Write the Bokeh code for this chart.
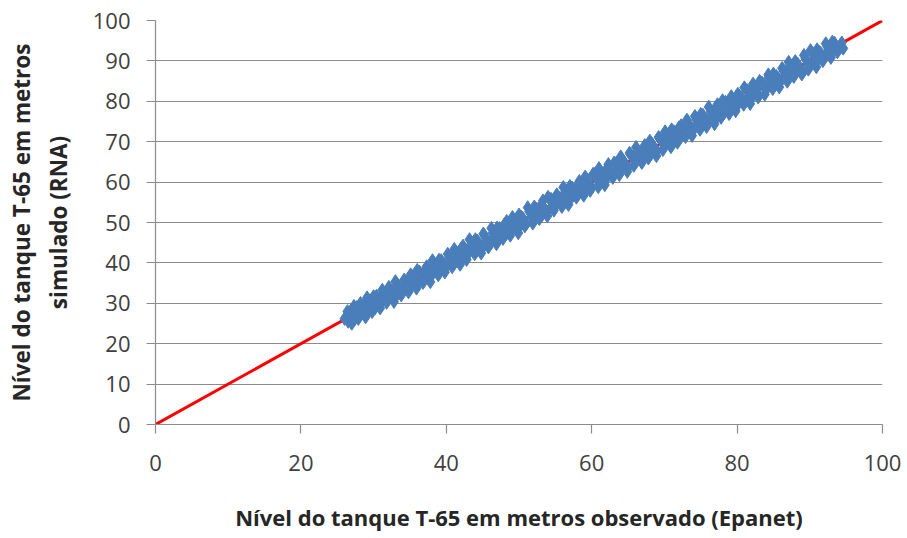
from bokeh.plotting import figure
from bokeh.models import Range1d, FixedTicker
from bokeh.embed import file_html
from bokeh.resources import INLINE

obs_upper = [26.4, 27.3, 28.2, 29.1, 30.0, 31.2, 32.1, 33.0, 34.2, 35.1, 36.0, 37.3, 38.1, 39.0, 40.2, 41.1, 42.3,
             43.2, 44.0, 45.1, 46.2, 47.0, 48.3, 49.1, 50.0, 51.2, 52.1, 53.3, 54.0, 55.2, 56.1, 57.0, 58.3, 59.1,
             60.2, 61.0, 62.3, 63.1, 64.0, 65.2, 66.1, 67.3, 68.0, 69.2, 70.1, 71.0, 72.3, 73.1, 74.2, 75.0, 76.1,
             77.3, 78.0, 79.2, 80.1, 81.0, 82.2, 83.1, 84.3, 85.0, 86.2, 87.1, 88.0, 89.2, 90.1, 91.0, 92.2, 93.1]
sim_upper = [28.0, 29.3, 30.0, 31.4, 31.7, 33.3, 34.0, 35.4, 35.8, 37.1, 38.2, 39.1, 40.6, 40.7, 42.2, 43.4, 44.2,
             45.8, 45.8, 47.2, 48.6, 48.7, 50.3, 51.3, 51.9, 53.7, 53.9, 55.4, 56.3, 56.9, 58.7, 59.0, 60.2, 61.3,
             62.0, 63.4, 64.4, 64.8, 66.3, 67.2, 68.6, 69.1, 70.2, 71.1, 72.5, 73.0, 74.0, 75.4, 76.3, 76.8, 78.6,
             79.2, 80.2, 81.2, 81.8, 83.4, 84.3, 85.0, 86.6, 86.8, 88.2, 89.7, 89.9, 91.4, 92.6, 92.8, 94.3, 94.7]

obs_upper_mid = [26.7, 27.7, 28.6, 29.5, 30.4, 31.4, 32.3, 33.3, 34.4, 35.3, 36.3, 37.0, 38.3, 39.3, 40.4, 41.4,
                 42.0, 43.4, 44.3, 45.3, 46.4, 47.3, 48.0, 49.4, 50.3, 51.4, 52.4, 53.0, 54.4, 55.4, 56.3, 57.3,
                 58.0, 59.4, 60.4, 61.3, 62.0, 63.4, 64.3, 65.4, 66.4, 67.0, 68.3, 69.4, 70.4, 71.3, 72.0, 73.4,
                 74.4, 75.3, 76.4, 77.0, 78.4, 79.4, 80.3, 81.4, 82.0, 83.4, 84.3, 85.4, 86.4, 87.3, 88.3, 89.4,
                 90.4, 91.3, 92.4, 93.4]
sim_upper_mid = [27.7, 29.0, 29.5, 30.7, 31.8, 32.2, 33.4, 34.6, 35.4, 36.5, 37.8, 37.9, 39.4, 40.6, 41.4, 42.6,
                 43.4, 44.3, 45.4, 46.6, 47.4, 48.5, 49.5, 50.2, 51.4, 52.7, 53.4, 54.2, 55.8, 56.3, 57.4, 58.6,
                 59.0, 60.6, 61.9, 62.2, 63.1, 64.7, 65.3, 66.6, 67.8, 67.8, 69.4, 70.7, 71.4, 72.5, 73.5, 74.3,
                 75.5, 76.6, 77.4, 78.2, 79.8, 80.3, 81.4, 82.7, 83.0, 84.6, 85.8, 86.2, 87.5, 88.6, 89.3, 90.6,
                 91.8, 92.2, 93.5, 94.4]

obs_mid = [26.0, 26.9, 27.8, 28.7, 29.6, 30.5, 31.6, 32.5, 33.6, 34.5, 35.6, 36.5, 37.7, 38.6, 39.5, 40.7, 41.6,
           42.7, 43.6, 44.5, 45.6, 46.6, 47.5, 48.7, 49.6, 50.5, 51.7, 52.6, 53.6, 54.6, 55.6, 56.5, 57.6, 58.7,
           59.6, 60.6, 61.6, 62.7, 63.5, 64.6, 65.7, 66.6, 67.6, 68.6, 69.7, 70.5, 71.6, 72.7, 73.6, 74.6, 75.6,
           76.7, 77.6, 78.6, 79.6, 80.6, 81.6, 82.7, 83.6, 84.6, 85.6, 86.7, 87.6, 88.5, 89.6, 90.6, 91.5, 92.6,
           93.5, 94.4]
sim_mid = [26.2, 26.6, 28.3, 28.6, 29.9, 30.1, 31.7, 33.1, 33.4, 34.9, 35.1, 36.7, 37.7, 38.3, 40.0, 40.8, 41.4,
           43.1, 43.2, 44.8, 45.6, 46.5, 48.0, 48.4, 49.8, 51.1, 51.5, 52.7, 53.2, 54.9, 55.6, 57.0, 57.5, 58.9,
           59.3, 61.0, 61.7, 62.2, 63.8, 64.6, 66.3, 66.4, 67.8, 68.5, 70.1, 70.2, 71.7, 73.2, 73.4, 74.9, 75.6,
           76.3, 77.8, 79.2, 79.5, 80.9, 81.3, 82.8, 84.0, 84.4, 85.8, 87.2, 87.2, 88.5, 89.9, 90.5, 91.9, 92.8,
           93.2, 94.5]

obs_lower_mid = [26.5, 27.4, 28.4, 29.3, 30.2, 31.1, 32.0, 33.1, 34.0, 35.0, 36.2, 37.1, 38.0, 39.1, 40.0, 41.0,
                 42.1, 43.0, 44.1, 45.0, 46.0, 47.1, 48.1, 49.0, 50.1, 51.0, 52.0, 53.1, 54.1, 55.0, 56.0, 57.1,
                 58.1, 59.0, 60.0, 61.1, 62.1, 63.0, 64.1, 65.0, 66.0, 67.1, 68.1, 69.0, 70.0, 71.1, 72.1, 73.0,
                 74.0, 75.1, 76.0, 77.1, 78.1, 79.0, 80.0, 81.1, 82.1, 83.0, 84.0, 85.1, 86.0, 87.0, 88.1, 89.0,
                 90.0, 91.1, 92.0, 93.0, 94.0]
sim_lower_mid = [25.5, 26.1, 27.5, 28.1, 28.8, 30.3, 30.9, 31.8, 33.0, 33.5, 35.0, 36.2, 36.9, 37.8, 39.0, 39.6,
                 40.9, 42.2, 43.0, 43.7, 45.0, 45.6, 46.9, 48.1, 49.0, 49.7, 51.0, 51.7, 52.9, 54.2, 54.9, 55.8,
                 57.1, 57.5, 58.8, 60.2, 61.0, 61.7, 63.1, 63.6, 64.8, 66.3, 67.0, 67.7, 69.0, 69.6, 70.9, 72.1,
                 72.9, 73.8, 75.0, 75.7, 76.9, 78.2, 78.9, 79.8, 81.1, 81.5, 82.8, 84.2, 84.9, 85.7, 87.1, 87.6,
                 88.8, 90.3, 90.9, 92.0, 93.1]

obs_lower = [27.0, 27.9, 28.9, 29.8, 30.9, 31.8, 32.8, 33.8, 34.8, 35.9, 36.8, 37.8, 38.9, 39.8, 40.8, 41.9, 42.8,
             43.9, 44.8, 45.8, 46.9, 47.8, 48.8, 49.9, 50.8, 51.9, 52.8, 53.9, 54.8, 55.9, 56.8, 57.9, 58.9, 59.8,
             60.9, 61.8, 62.9, 63.8, 64.9, 65.8, 66.9, 67.8, 68.9, 69.8, 70.9, 71.8, 72.9, 73.8, 74.9, 75.8, 76.9,
             77.8, 78.9, 79.8, 80.9, 81.8, 82.9, 83.8, 84.9, 85.8, 86.9, 87.8, 88.9, 89.8, 90.9, 91.8, 92.9, 93.8,
             94.6]
sim_lower = [25.0, 26.2, 26.6, 27.9, 28.8, 30.2, 30.4, 32.0, 32.8, 33.7, 35.1, 35.3, 37.0, 37.7, 39.0, 39.6, 40.8,
             42.2, 42.4, 43.9, 44.7, 46.0, 46.8, 47.4, 49.1, 49.8, 50.9, 51.6, 53.0, 53.9, 54.4, 56.2, 56.7, 57.9,
             58.8, 59.3, 61.1, 61.8, 62.6, 64.1, 64.8, 65.9, 66.5, 68.0, 68.7, 69.8, 71.2, 71.5, 73.0, 73.7, 74.4,
             76.0, 76.9, 77.6, 79.2, 79.4, 81.0, 81.7, 83.1, 83.5, 84.9, 86.1, 86.7, 87.9, 88.5, 90.0, 90.8, 92.2,
             93.1]

line_x = [0, 100]
line_y = [0, 100]
x_ticks = [0, 20, 40, 60, 80, 100]
y_ticks = [0, 10, 20, 30, 40, 50, 60, 70, 80, 90, 100]

FONT = "Open Sans"
GRID = "#8c8c8c"
BLUE = "#4a7ebb"

p = figure(width=905, height=538, output_backend="svg", toolbar_location=None,
           x_range=Range1d(0, 100), y_range=Range1d(0, 100),
           min_border_left=155, min_border_right=23, min_border_top=20, min_border_bottom=114)
p.outline_line_color = None
p.background_fill_color = "white"
p.border_fill_color = "white"

p.xgrid.grid_line_color = None
p.ygrid.grid_line_color = GRID
p.ygrid.grid_line_width = 1.2

p.xaxis.ticker = FixedTicker(ticks=x_ticks)
p.yaxis.ticker = FixedTicker(ticks=y_ticks)
for ax in (p.xaxis[0], p.yaxis[0]):
    ax.axis_line_color = GRID
    ax.axis_line_width = 1.2
    ax.major_tick_line_color = GRID
    ax.major_tick_line_width = 1.2
    ax.major_tick_in = 0
    ax.major_tick_out = 9
    ax.minor_tick_line_color = None
    ax.major_label_text_font = FONT
    ax.major_label_text_font_size = "22px"
    ax.major_label_text_color = "#404040"
    ax.axis_label_text_font = FONT
    ax.axis_label_text_font_style = "bold"
    ax.axis_label_text_color = "#262626"

p.xaxis.axis_label_text_font_size = "22px"
p.yaxis.axis_label_text_font_size = "22.5px"
p.xaxis.major_label_standoff = 21
p.yaxis.major_label_standoff = 16
p.xaxis.axis_label = "Nível do tanque T-65 em metros observado (Epanet)"
p.yaxis.axis_label = "Nível do tanque T-65 em metros\nsimulado (RNA)"
p.xaxis.axis_label_standoff = 28
p.yaxis.axis_label_standoff = 16

p.line(line_x, line_y, line_color="#ff0000", line_width=3)

rows = ((obs_upper, sim_upper), (obs_upper_mid, sim_upper_mid), (obs_mid, sim_mid),
        (obs_lower_mid, sim_lower_mid), (obs_lower, sim_lower))
for xs, ys in rows:
    p.scatter(xs, ys, marker="diamond", size=13.5, fill_color=BLUE,
              line_color=BLUE, line_width=1)

open("out.html", "w").write(file_html(p, INLINE))
